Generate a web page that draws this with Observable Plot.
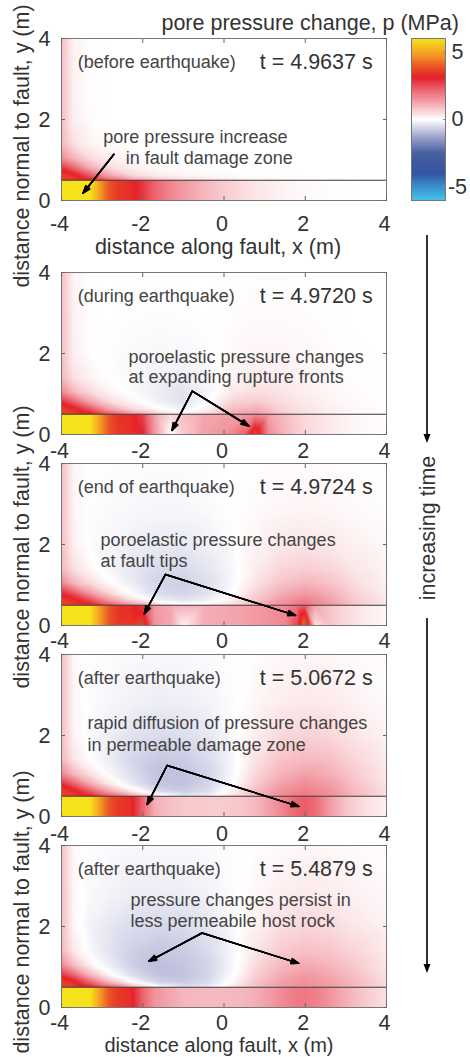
<!DOCTYPE html>
<html>
<head>
<meta charset="utf-8">
<script src="https://cdn.jsdelivr.net/npm/d3@7"></script>
<script src="https://cdn.jsdelivr.net/npm/@observablehq/plot@0.6"></script>
<style>
  body { margin: 0; background: #fff; }
  #fig { position: relative; width: 470px; height: 1057px; overflow: hidden; background: #fff;
         font-family: "Liberation Sans", Arial, Helvetica, sans-serif; }
  #fig svg { position: absolute; overflow: visible; }
</style>
</head>
<body>
<div id="fig"></div>
<script>
// ---------------- data ----------------
const X_TICKS = [-4, -2, 0, 2, 4];
const Y_TICKS = [0, 2, 4];
const CBAR_TICKS = [-5, 0, 5];
const FAULT_Y = [0.5];

const STAGES = ["(before earthquake)", "(during earthquake)", "(end of earthquake)", "(after earthquake)", "(after earthquake)"];
const TIMES = ["t = 4.9637 s", "t = 4.9720 s", "t = 4.9724 s", "t = 5.0672 s", "t = 5.4879 s"];

// colour map (MPa -> colour)
const CMAP_VALUES = [-6, -4.75, -4, -2.5, -1.55, -0.7, 0, 0.67, 1.4, 2.2, 3.1, 3.8, 4.6, 5.2, 6];
const CMAP_COLORS = ["#45c5ec", "#3a84c4", "#3354a2", "#45609f", "#8c93c4", "#cccde4", "#ffffff",
                     "#f8cdd1", "#f29aa3", "#ec6570", "#e52129", "#ea4a25", "#f28b26", "#f5b320", "#f5e21a"];

// damage zone (0 <= y <= 0.5) samples: rows at y = 0 and y = 0.5
const BAND_X = [-4, -3.4, -3.25, -3.05, -2.85, -2.6, -2.3, -2.0, -1.7, -1.3, -1, -0.5, 0, 0.5, 0.75, 1.1, 1.5, 1.8, 2, 2.25, 2.6, 3, 3.5, 4];
const BAND_Y = [0, 0.5];
const BAND_1 = [
  [7, 7, 5.8, 4.8, 4.0, 3.5, 3.3, 2.8, 2.2, 1.7, 1.4, 1.0, 0.7, 0.45, 0.35, 0.25, 0.15, 0.1, 0.08, 0.06, 0.03, 0.01, 0, 0],
  [7, 7, 5.8, 4.8, 4.0, 3.5, 3.3, 2.8, 2.2, 1.7, 1.4, 1.0, 0.7, 0.45, 0.35, 0.25, 0.15, 0.1, 0.08, 0.06, 0.03, 0.01, 0, 0]
];
const BAND_2 = [
  [7, 7, 5.8, 4.8, 4.0, 3.5, 3.4, 3.1, 1.4, 0.0, 0.7, 1.3, 1.5, 2.2, 3.8, 1.6, 1.0, 0.7, 0.55, 0.45, 0.3, 0.18, 0.08, 0.03],
  [7, 7, 5.8, 4.8, 4.0, 3.4, 3.3, 2.7, 1.3, 0.5, 0.9, 1.2, 1.3, 1.4, 1.6, 1.3, 0.9, 0.65, 0.5, 0.4, 0.28, 0.16, 0.07, 0.03]
];
const BAND_3 = [
  [7, 7, 5.8, 4.8, 4.0, 3.5, 3.5, 3.8, 1.5, 1.2, 0.2, 1.1, 1.2, 1.3, 1.4, 1.5, 1.7, 2.6, 4.5, 0.4, 0.8, 0.5, 0.25, 0.1],
  [7, 7, 5.8, 4.8, 4.0, 3.4, 3.3, 2.8, 1.4, 1.2, 1.1, 1.1, 1.2, 1.3, 1.4, 1.5, 1.6, 2.0, 2.3, 1.2, 0.8, 0.5, 0.25, 0.1]
];
const BAND_4 = [
  [7, 7, 5.8, 4.8, 4.0, 3.5, 3.3, 2.2, 1.1, 0.85, 0.75, 0.7, 0.7, 0.8, 0.95, 1.3, 1.8, 2.2, 2.3, 2.1, 1.4, 0.8, 0.4, 0.2],
  [7, 7, 5.8, 4.8, 4.0, 3.5, 3.3, 2.2, 1.1, 0.85, 0.75, 0.7, 0.7, 0.8, 0.95, 1.3, 1.8, 2.2, 2.3, 2.1, 1.4, 0.8, 0.4, 0.2]
];
const BAND_5 = [
  [7, 7, 5.8, 4.8, 4.0, 3.5, 3.3, 2.2, 1.5, 1.2, 1.0, 0.95, 0.95, 1.0, 1.1, 1.35, 1.7, 1.9, 1.9, 1.8, 1.5, 1.1, 0.7, 0.4],
  [7, 7, 5.8, 4.8, 4.0, 3.5, 3.3, 2.2, 1.5, 1.2, 1.0, 0.95, 0.95, 1.0, 1.1, 1.35, 1.7, 1.9, 1.9, 1.8, 1.5, 1.1, 0.7, 0.4]
];

// host rock (0.5 <= y <= 4) samples
const HOST_X = [-4, -3.7, -3.3, -2.8, -2.2, -1.6, -1, -0.4, 0.2, 0.8, 1.4, 2, 2.6, 3.2, 4];
const HOST_Y = [0.5, 0.62, 0.8, 1.05, 1.4, 2, 2.8, 4];
const HOST_1 = [
  [3.6, 3.6, 3.2, 2.2, 1.2, 0.7, 0.45, 0.3, 0.2, 0.12, 0.08, 0.04, 0.02, 0, 0],
  [3.6, 3.3, 2.4, 1.2, 0.5, 0.25, 0.15, 0.1, 0.05, 0.03, 0.02, 0, 0, 0, 0],
  [2.9, 2.2, 1.2, 0.5, 0.2, 0.08, 0.04, 0.02, 0, 0, 0, 0, 0, 0, 0],
  [1.6, 1.0, 0.5, 0.2, 0.08, 0.03, 0, 0, 0, 0, 0, 0, 0, 0, 0],
  [1.0, 0.4, 0.15, 0.05, 0, 0, 0, 0, 0, 0, 0, 0, 0, 0, 0],
  [0.9, 0.2, 0.05, 0, 0, 0, 0, 0, 0, 0, 0, 0, 0, 0, 0],
  [0.9, 0.18, 0.03, 0, 0, 0, 0, 0, 0, 0, 0, 0, 0, 0, 0],
  [0.9, 0.15, 0.02, 0, 0, 0, 0, 0, 0, 0, 0, 0, 0, 0, 0]
];
const HOST_2 = [
  [3.6, 3.6, 3.3, 2.4, 1.4, 0.6, 0.2, 0.5, 1.2, 1.4, 0.8, 0.45, 0.25, 0.12, 0.03],
  [3.6, 3.3, 2.5, 1.3, 0.5, 0.1, -0.2, 0.2, 0.9, 1.1, 0.6, 0.35, 0.2, 0.1, 0.03],
  [3.0, 2.3, 1.3, 0.5, 0.1, -0.2, -0.4, 0, 0.6, 0.7, 0.45, 0.3, 0.15, 0.08, 0.02],
  [1.7, 1.0, 0.5, 0.15, -0.05, -0.25, -0.4, -0.15, 0.3, 0.45, 0.35, 0.22, 0.12, 0.05, 0.02],
  [1.0, 0.4, 0.15, 0, -0.1, -0.2, -0.25, -0.1, 0.15, 0.25, 0.22, 0.15, 0.08, 0.03, 0],
  [0.9, 0.2, 0.03, -0.03, -0.08, -0.1, -0.1, -0.03, 0.08, 0.14, 0.14, 0.1, 0.05, 0.02, 0],
  [0.9, 0.18, 0.02, 0, -0.03, -0.04, -0.03, 0, 0.04, 0.07, 0.07, 0.05, 0.03, 0, 0],
  [0.9, 0.15, 0.02, 0, 0, 0, 0, 0, 0.02, 0.03, 0.03, 0.02, 0.01, 0, 0]
];
const HOST_3 = [
  [3.6, 3.6, 3.3, 2.5, 1.5, 0.5, 0.1, 0.2, 0.5, 1.0, 1.6, 2.0, 1.4, 0.8, 0.3],
  [3.6, 3.3, 2.6, 1.4, 0.4, -0.2, -0.35, -0.2, 0.2, 0.8, 1.4, 1.8, 1.3, 0.7, 0.3],
  [3.0, 2.4, 1.4, 0.5, -0.1, -0.5, -0.6, -0.4, 0, 0.6, 1.1, 1.4, 1.1, 0.6, 0.25],
  [1.7, 1.0, 0.5, 0.05, -0.3, -0.6, -0.65, -0.45, -0.1, 0.4, 0.8, 1.0, 0.8, 0.45, 0.2],
  [1.0, 0.4, 0.1, -0.12, -0.35, -0.5, -0.5, -0.35, -0.1, 0.25, 0.55, 0.65, 0.55, 0.32, 0.15],
  [0.9, 0.2, -0.05, -0.12, -0.25, -0.3, -0.3, -0.2, -0.05, 0.15, 0.3, 0.35, 0.3, 0.2, 0.1],
  [0.9, 0.15, -0.03, -0.07, -0.1, -0.12, -0.12, -0.08, 0, 0.07, 0.13, 0.15, 0.13, 0.08, 0.04],
  [0.9, 0.12, 0, -0.02, -0.03, -0.04, -0.04, -0.02, 0, 0.03, 0.05, 0.05, 0.04, 0.03, 0.01]
];
const HOST_4 = [
  [3.6, 3.6, 3.2, 2.4, 1.2, 0.2, -0.35, -0.2, 0.4, 1.0, 1.6, 2.0, 1.6, 1.0, 0.4],
  [3.6, 3.3, 2.4, 1.2, 0.2, -0.5, -0.7, -0.45, 0.2, 0.9, 1.5, 1.8, 1.5, 0.95, 0.4],
  [3.0, 2.3, 1.2, 0.3, -0.35, -0.8, -0.85, -0.6, 0, 0.7, 1.3, 1.6, 1.35, 0.85, 0.35],
  [1.7, 1.0, 0.4, -0.1, -0.5, -0.85, -0.85, -0.6, -0.1, 0.55, 1.05, 1.3, 1.1, 0.7, 0.3],
  [1.0, 0.35, 0.0, -0.25, -0.6, -0.75, -0.72, -0.5, -0.12, 0.4, 0.8, 0.95, 0.85, 0.55, 0.25],
  [0.9, 0.15, -0.08, -0.25, -0.42, -0.5, -0.46, -0.33, -0.08, 0.25, 0.5, 0.6, 0.55, 0.35, 0.15],
  [0.9, 0.12, -0.04, -0.12, -0.2, -0.25, -0.23, -0.16, -0.04, 0.12, 0.25, 0.3, 0.27, 0.18, 0.08],
  [0.9, 0.1, -0.02, -0.04, -0.07, -0.08, -0.08, -0.06, 0, 0.05, 0.1, 0.12, 0.1, 0.07, 0.03]
];
const HOST_5 = [
  [3.6, 3.6, 3.2, 2.3, 1.0, 0.0, -0.45, -0.25, 0.3, 0.9, 1.4, 1.6, 1.4, 1.0, 0.5],
  [3.6, 3.3, 2.3, 1.0, 0.0, -0.6, -0.7, -0.5, 0.1, 0.8, 1.3, 1.55, 1.35, 0.95, 0.45],
  [2.9, 2.2, 1.0, 0.1, -0.5, -0.85, -0.85, -0.6, -0.05, 0.65, 1.15, 1.4, 1.2, 0.85, 0.4],
  [1.7, 0.9, 0.2, -0.25, -0.7, -0.9, -0.8, -0.6, -0.12, 0.5, 0.95, 1.15, 1.0, 0.7, 0.35],
  [1.0, 0.3, -0.08, -0.38, -0.68, -0.8, -0.72, -0.5, -0.12, 0.35, 0.7, 0.85, 0.75, 0.55, 0.28],
  [0.9, 0.12, -0.17, -0.34, -0.5, -0.55, -0.5, -0.34, -0.1, 0.2, 0.45, 0.55, 0.5, 0.35, 0.18],
  [0.9, 0.1, -0.08, -0.17, -0.25, -0.27, -0.25, -0.17, -0.04, 0.1, 0.22, 0.28, 0.25, 0.18, 0.1],
  [0.9, 0.08, -0.03, -0.05, -0.08, -0.08, -0.08, -0.06, -0.01, 0.04, 0.08, 0.1, 0.09, 0.06, 0.03]
];

// annotation text lines (data coordinates of line start)
const NOTES_1 = [{x: -2.97, y: 1.56, text: "pore pressure increase"}, {x: -2.42, y: 1.04, text: "in fault damage zone"}];
const NOTES_2 = [{x: -2.35, y: 1.90, text: "poroelastic pressure changes"}, {x: -2.35, y: 1.41, text: "at expanding rupture fronts"}];
const NOTES_3 = [{x: -3.04, y: 2.10, text: "poroelastic pressure changes"}, {x: -3.04, y: 1.58, text: "at fault tips"}];
const NOTES_4 = [{x: -3.36, y: 2.30, text: "rapid diffusion of pressure changes"}, {x: -3.36, y: 1.75, text: "in permeable damage zone"}];
const NOTES_5 = [{x: -2.30, y: 2.64, text: "pressure changes persist in"}, {x: -2.30, y: 2.12, text: "less permeabile host rock"}];

// annotation arrows (data coordinates)
const ARROWS_1 = [{x1: -2.71, y1: 1.14, x2: -3.47, y2: 0.18}];
const ARROWS_2 = [{x1: -0.78, y1: 1.07, x2: -1.28, y2: 0.10}, {x1: -0.78, y1: 1.07, x2: 0.61, y2: 0.21}];
const ARROWS_3 = [{x1: -1.44, y1: 1.26, x2: -1.96, y2: 0.29}, {x1: -1.44, y1: 1.26, x2: 1.76, y2: 0.25}];
const ARROWS_4 = [{x1: -1.40, y1: 1.26, x2: -1.89, y2: 0.30}, {x1: -1.40, y1: 1.26, x2: 1.84, y2: 0.25}];
const ARROWS_5 = [{x1: -0.54, y1: 1.84, x2: -1.85, y2: 1.14}, {x1: -0.54, y1: 1.84, x2: 1.84, y2: 1.09}];

const BANDS = [BAND_1, BAND_2, BAND_3, BAND_4, BAND_5];
const HOSTS = [HOST_1, HOST_2, HOST_3, HOST_4, HOST_5];
const NOTES = [NOTES_1, NOTES_2, NOTES_3, NOTES_4, NOTES_5];
const ARROWS = [ARROWS_1, ARROWS_2, ARROWS_3, ARROWS_4, ARROWS_5];

// ---------------- layout ----------------
const FONT = '"Liberation Sans", Arial, Helvetica, sans-serif';
const PANEL_TOPS = [38, 272, 463, 654, 845];
const PANEL_H = 162;
const TICK_PAD = [15, 8, 7, 9, 7];
const BIG = 21.5, SMALL = 18;
const INK = "#333", INK2 = "#444";
const HEAD_ANGLES = [40, 28, 16, 6];

const colorScale = {type: "linear", domain: CMAP_VALUES, range: CMAP_COLORS, clamp: true, interpolate: "rgb"};
const fig = document.getElementById("fig");

function place(svg, left, top) {
  svg.style.left = left + "px";
  svg.style.top = top + "px";
  fig.appendChild(svg);
}

PANEL_TOPS.forEach((top, i) => {
  const MT = 10, MB = 45;
  const band = [];
  BAND_Y.forEach((y, r) => BAND_X.forEach((x, c) => band.push({x, y, v: BANDS[i][r][c]})));
  const host = [];
  HOST_Y.forEach((y, r) => HOST_X.forEach((x, c) => host.push({x, y, v: HOSTS[i][r][c]})));
  const svg = Plot.plot({
    width: 470, height: MT + PANEL_H + MB,
    marginTop: MT, marginBottom: MB, marginLeft: 61, marginRight: 84,
    x: {domain: [-4, 4]}, y: {domain: [0, 4]},
    color: colorScale,
    style: {background: "transparent", fontFamily: FONT, color: INK},
    marks: [
      Plot.raster(host, {x: "x", y: "y", fill: "v", interpolate: "barycentric", x1: -4, x2: 4, y1: FAULT_Y[0], y2: 4}),
      Plot.raster(band, {x: "x", y: "y", fill: "v", interpolate: "barycentric", x1: -4, x2: 4, y1: 0, y2: FAULT_Y[0]}),
      Plot.ruleY(FAULT_Y, {stroke: "#3a3a3a", strokeWidth: 1}),
      Plot.frame({stroke: "#777"}),
      Plot.axisX(X_TICKS, {anchor: "bottom", tickSize: 4, dy: -4, fill: "none", stroke: "#666", label: null}),
      Plot.axisX(X_TICKS, {anchor: "top", tickSize: 4, dy: 4, fill: "none", stroke: "#666", label: null}),
      Plot.axisY(Y_TICKS, {anchor: "left", tickSize: 4, dx: 4, fill: "none", stroke: "#666", label: null}),
      Plot.axisY(Y_TICKS, {anchor: "right", tickSize: 4, dx: -4, fill: "none", stroke: "#666", label: null}),
      Plot.axisX(X_TICKS, {anchor: "bottom", tickSize: 0, tickPadding: TICK_PAD[i], tickFormat: d => String(d),
                           fontSize: BIG, fill: INK, label: null, dx: -2}),
      Plot.axisY(Y_TICKS, {anchor: "left", tickSize: 0, tickPadding: 11, tickFormat: d => String(d),
                           fontSize: BIG, fill: INK, label: null, dy: 1}),
      Plot.text([STAGES[i]], {x: -3.6, y: 3.42, text: d => d, textAnchor: "start", fontSize: SMALL, fill: INK2}),
      Plot.text([TIMES[i]], {x: 3.66, y: 3.42, text: d => d, textAnchor: "end", fontSize: BIG, fill: INK}),
      Plot.text(NOTES[i], {x: "x", y: "y", text: "text", textAnchor: "start", fontSize: SMALL, fill: INK2}),
      ...HEAD_ANGLES.map(a => Plot.arrow(ARROWS[i], {x1: "x1", y1: "y1", x2: "x2", y2: "y2", stroke: "#000",
                                                     strokeWidth: 1.5, headLength: 8, headAngle: a}))
    ]
  });
  place(svg, 0, top - MT);
});

// colour bar
{
  const MT = 10, MB = 10;
  const cb = Plot.plot({
    width: 70, height: PANEL_H + MT + MB,
    marginTop: MT, marginBottom: MB, marginLeft: 0, marginRight: 36,
    x: {domain: [0, 1], axis: null}, y: {domain: [-6, 6]},
    color: colorScale,
    style: {background: "transparent", fontFamily: FONT, color: INK},
    marks: [
      Plot.raster({fill: (x, y) => y, x1: 0, x2: 1, y1: -6, y2: 6}),
      Plot.frame({stroke: "#777"}),
      Plot.axisY(CBAR_TICKS, {anchor: "right", tickSize: 3, dx: -3, fill: "none", stroke: "#888", label: null}),
      Plot.axisY(CBAR_TICKS, {anchor: "right", tickSize: 0, tickPadding: 12, textAnchor: "middle",
                              tickFormat: d => String(d), fontSize: BIG, fill: INK, label: null})
    ]
  });
  place(cb, 411, PANEL_TOPS[0] - MT);
}

// overlay: titles, axis labels, time arrow
{
  const ov = d3.create("svg").attr("width", 470).attr("height", 1057)
    .style("left", "0px").style("top", "0px").style("pointer-events", "none")
    .attr("font-family", FONT).attr("fill", INK);
  ov.append("text").attr("x", 459).attr("y", 23).attr("text-anchor", "end")
    .attr("dominant-baseline", "central").attr("font-size", BIG).text("pore pressure change, p (MPa)");
  [[218, 247, BIG], [219, 1045, 20]].forEach(([x, y, fs]) =>
    ov.append("text").attr("x", x).attr("y", y).attr("text-anchor", "middle")
      .attr("dominant-baseline", "central").attr("font-size", fs).text("distance along fault, x (m)"));
  [146, 547, 912].forEach(cy =>
    ov.append("text").attr("transform", `translate(22,${cy}) rotate(-90)`).attr("text-anchor", "middle")
      .attr("dominant-baseline", "central").attr("font-size", BIG).text("distance normal to fault, y (m)"));
  ov.append("text").attr("transform", "translate(428,528) rotate(-90)").attr("text-anchor", "middle")
    .attr("dominant-baseline", "central").attr("font-size", BIG).text("increasing time");
  [[235, 443], [618, 973]].forEach(([a, b]) => {
    ov.append("line").attr("x1", 427).attr("x2", 427).attr("y1", a).attr("y2", b - 6)
      .attr("stroke", "#000").attr("stroke-width", 1.6);
    ov.append("path").attr("d", `M${427 - 3.5},${b - 9}L${427 + 3.5},${b - 9}L427,${b}Z`).attr("fill", "#000");
  });
  fig.appendChild(ov.node());
}
</script>
</body>
</html>
